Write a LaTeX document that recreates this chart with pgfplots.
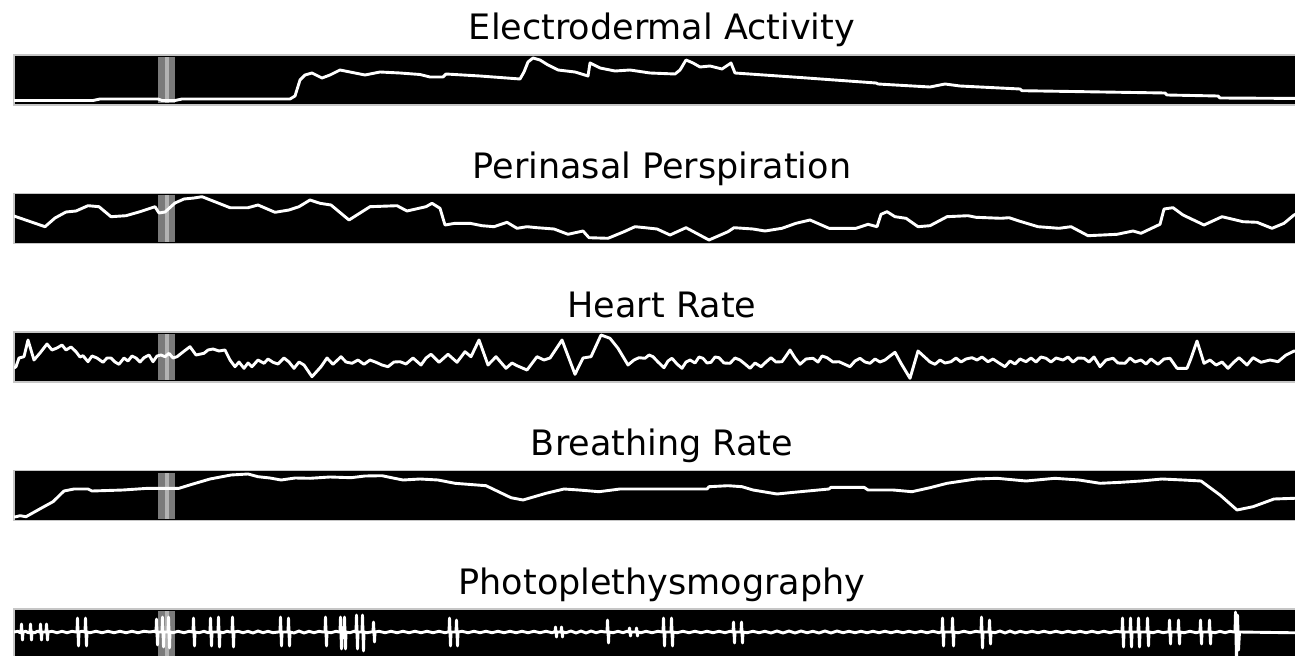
\documentclass[border=0pt]{standalone}
\usepackage{pgfplots}
\pgfplotsset{compat=1.18}
\usepackage{fontspec}
\setmainfont{DejaVu Sans}
\definecolor{bandout}{RGB}{122,122,122}
\definecolor{bandin}{RGB}{178,178,178}
\pgfplotsset{panel/.style={width=648pt,height=25pt,scale only axis,
 xmin=14,xmax=1310,y dir=reverse,xtick=\empty,ytick=\empty,
 axis background/.style={fill=black},
 axis line style={draw=gray!45,line width=0.6pt},
 title style={font=\fontsize{17.5}{21}\selectfont,at={(0.5,1)},anchor=base,yshift=1.5pt}},
 sig/.style={white,line width=1.45pt,line join=round,mark=none}}
\newcommand{\band}[2]{\fill[bandout] (axis cs:158,#1) rectangle (axis cs:175,#2);
 \fill[bandin] (axis cs:164.5,#1) rectangle (axis cs:169,#2);}
\begin{document}
\begin{tikzpicture}
% Panel 1
\begin{axis}[panel,at={(7pt,275pt)},anchor=south west,ymin=55,ymax=105,title={Electrodermal Activity}]
\band{57}{103}
\addplot[sig] coordinates {(14,100.5)(93,100.5)(100,99)(158,99)(162,100.5)(175,100.5)(182,99)(290,99)(295,96)(300,80)(305,75)(312,73)(322,78)(330,75)(340,70)(350,72)(365,75)(380,72)(400,73)(420,74.5)(430,77)(443,77)(446,74)(480,76)(520,79)(524,72)(528,62)(533,58)(540,60)(548,65)(558,70)(575,72)(588,76)(590,63)(600,68)(615,71)(630,70)(650,73)(675,74)(680,70)(686,60)(693,63)(700,67)(710,66)(722,69)(731,63)(735,73)(800,77.5)(876,83)(878,84)(930,87)(945,84)(960,86)(1020,89)(1022,90.7)(1165,93)(1167,95)(1218,96)(1220,98)(1310,98.5)};
\end{axis}
% Panel 2
\begin{axis}[panel,at={(7pt,205.75pt)},anchor=south west,ymin=193.5,ymax=243.5,title={Perinasal Perspiration}]
\band{195.5}{241.5}
\addplot[sig] coordinates {(14,216)(16,216.7)(45,226.7)(55,218)(66,212)(76,211)(88,205.7)(99,206.7)(111,216.7)(126,215.7)(140,211.7)(155,206.7)(159,213)(165,212)(175,203)(184,199)(194,198)(202,196.7)(213,201)(230,207.7)(248,207.7)(258,205)(275,212.3)(289,210)(299,206.7)(310,200)(320,203.3)(331,205)(349,220)(370,206.7)(397,205.7)(407,211)(426,206.7)(432,203.3)(440,208.3)(445,225)(455,223.3)(470,223.3)(482,225.7)(494,226.7)(507,222.3)(517,228.3)(527,226.7)(537,227.7)(554,229)(568,234.3)(583,231)(589,237.7)(608,238.3)(624,231.7)(635,226.7)(645,227.7)(657,229)(670,235)(686,227.7)(709,240)(728,231.7)(734,227.7)(753,229)(765,231)(782,228.3)(796,223.3)(810,220)(829,228.3)(856,228.3)(868,224.3)(877,226.7)(881,214.3)(887,211.7)(895,216.7)(906,218.3)(918,226.7)(930,225.7)(947,216.7)(968,215.7)(976,217.3)(1001,218.3)(1009,217.7)(1019,221)(1038,226.7)(1059,228.3)(1071,226.7)(1088,235.7)(1117,234.3)(1133,231)(1141,233.3)(1160,224.3)(1164,209)(1173,207.7)(1183,215)(1204,225)(1222,216.7)(1243,221.7)(1257,222.3)(1272,228.3)(1284,223.3)(1294,215)(1310,208)};
\end{axis}
% Panel 3
\begin{axis}[panel,at={(7pt,136.5pt)},anchor=south west,ymin=332,ymax=382,title={Heart Rate}]
\band{334}{380}
\addplot[sig] coordinates {(14,368)(16,366.7)(19,358)(24,356.7)(28,340)(34,360)(40,353)(47,344)(52,350)(57,348)(62,345)(66,350)(71,347)(76,351.7)(80,357)(83,355.7)(88,361.7)(92,356)(97,358)(103,362.3)(107,358)(111,358)(115,362)(119,364.3)(124,358)(128,361)(132,356)(136,358)(140,362)(144,357.7)(149,355)(153,361.7)(157,356)(161,355)(165,356.7)(169,353.3)(173,358)(177,356.7)(183,352)(190,346.7)(196,355)(204,353.3)(208,350)(213,349)(219,351)(225,350)(230,360)(235,366.7)(239,362)(244,368.3)(248,363)(252,366.7)(258,360)(264,363.3)(268,359)(273,362.3)(278,364)(284,358)(289,362)(294,368.3)(299,362)(304,365)(312,376.7)(321,366.7)(327,358)(333,364.3)(341,356.7)(346,362)(352,363.3)(358,360)(364,364.3)(370,360)(376,362.3)(382,365)(388,366.7)(394,362)(400,361.7)(406,364)(413,358)(421,365)(426,358)(431,354.3)(439,362.3)(448,354.3)(457,362.3)(465,351.7)(471,356.7)(479,340)(488,365)(496,356.7)(506,368.3)(512,363)(517,365.7)(527,370)(537,356.7)(544,360)(550,358)(562,340)(575,374.3)(583,358)(591,356.7)(601,335)(610,338.3)(618,348.3)(628,365)(634,360)(639,357.7)(645,358.3)(649,355)(653,356.7)(658,362)(664,367.7)(668,361)(672,358.3)(677,364)(682,368.3)(686,362)(690,360)(695,363)(699,357)(703,358.3)(707,363)(711,362.3)(715,357)(719,357.7)(724,363)(730,363.3)(735,358)(740,360)(745,364)(750,368.3)(755,363)(761,366.7)(766,362)(771,357.7)(776,362)(782,361.7)(786,356)(790,350)(795,358)(800,364.3)(806,359)(813,358.3)(818,362)(822,356)(827,357.7)(833,362)(839,361.7)(844,364)(850,366.7)(855,361)(860,358.3)(865,362)(870,363.3)(875,359)(880,362)(885,360)(890,356)(895,352.3)(901,363.3)(910,378.3)(918,351)(926,358.3)(930,362)(935,364.3)(940,360)(945,363)(951,361.7)(956,358)(961,362)(966,359)(972,357.7)(977,360)(982,357)(988,361.7)(993,359)(999,363)(1005,366.7)(1010,361)(1015,364)(1020,359)(1026,361.7)(1031,358)(1036,362)(1041,357)(1046,358.3)(1051,362)(1056,358)(1063,360)(1068,357)(1073,362)(1078,358)(1084,358.3)(1089,362)(1094,357)(1100,366.7)(1106,360)(1113,358.3)(1118,363)(1125,363.3)(1130,358)(1135,362)(1141,360)(1146,364)(1151,359)(1158,364.3)(1164,359)(1170,358.3)(1177,368.3)(1187,368.3)(1191,358.3)(1197,341)(1204,363.3)(1210,360)(1216,365)(1222,362)(1228,368.3)(1234,362)(1239,357.7)(1247,365)(1253,357.7)(1261,362.3)(1270,360)(1278,361.7)(1286,355)(1294,351)(1302,352)(1310,348)};
\end{axis}
% Panel 4
\begin{axis}[panel,at={(7pt,67.25pt)},anchor=south west,ymin=470.5,ymax=520.5,title={Breathing Rate}]
\band{472.5}{518.5}
\addplot[sig] coordinates {(14,517)(16,516.7)(20,515.7)(26,516.7)(41,508.3)(53,501.7)(64,491)(74,489)(88,489)(92,491)(123,490)(148,488.3)(179,488.3)(192,484.3)(210,479)(231,475)(248,474)(258,476.7)(270,478)(281,480)(295,478)(310,478.3)(330,477)(351,477.7)(365,476)(382,475.7)(393,478)(403,480)(420,479)(438,480)(455,483.3)(486,485.7)(511,497.7)(523,500)(546,493.3)(564,489)(579,490)(599,491.7)(620,489)(645,489)(707,489)(709,486.7)(728,485.7)(742,486.7)(753,490)(777,494)(794,492.3)(829,489)(831,487.3)(864,487.3)(868,490)(893,490)(912,491.7)(930,487.7)(947,483.3)(976,479)(997,478.3)(1026,481)(1055,478.3)(1079,480)(1100,483.3)(1121,482.3)(1141,481)(1162,479)(1183,480)(1201,481)(1220,495)(1237,510)(1253,506.7)(1274,499)(1294,498.3)(1310,498)};
\end{axis}
% Panel 5
\begin{axis}[panel,at={(7pt,-2pt)},anchor=south west,ymin=609,ymax=659,title={Photoplethysmography}]
\band{611}{657}
\addplot[sig] coordinates {(14,632)(18,631.3)(20,632.7)
(21,632)(21.5,624)(22.5,640)(23,632)(26,631.3)(28,632.7)
(30,632)(30.5,624)(31.5,640)(32,632)(35,632.7)(37,631.3)
(40,632)(40.5,624)(41.5,640)(42,632)(44,632)
(46,632)(46.5,624)(47.5,640)(48,632)
(52,631.3)(57,632.7)(62,631.3)(67,632.7)(72,631.3)(76,632)
(77,632)(77.5,618)(78.5,646)(79,632)(82,631.3)
(85,632)(85.5,618)(86.5,646)(87,632)
(90,632.7)(96,631.3)(102,632.7)(108,631.3)(114,632.7)(120,631.3)(126,632.7)(132,631.3)(138,632.7)(144,631.3)(150,632)(154,631.3)
(156,632)(156.5,619)(157.5,645)(158,632)
(162,632)(162.5,617)(163.5,647)(164,632)
(168,632)(168.5,617)(169.5,648)(170,632)
(173,632.7)(178,631.3)(184,632.7)(189,631.3)
(193,632)(193.5,618)(194.5,646)(195,632)
(199,632.7)(204,631.3)(208,632.7)
(210,632)(210.5,618)(211.5,646)(212,632)(215,632)
(218,632)(218.5,617)(219.5,647)(220,632)
(223,632.7)(227,631.3)(230,632)
(232,632)(232.5,617)(233.5,647)(234,632)
(238,631.3)(243,632.7)(248,631.3)(253,633)(258,631)(263,632.7)(268,631.3)(273,632.7)(278,632)
(280,632)(280.5,617)(281.5,646)(282,632)(285,632)
(288,632)(288.5,618)(289.5,646)(290,632)
(294,633)(299,631)(304,633)(309,631.3)(314,632.7)(319,631.3)(323,632)
(325,632)(325.5,617)(326.5,646)(327,632)
(331,632.7)(336,631.3)(339,632)
(340,632)(340.5,617)(341.5,649)(342,632)
(344,632)(344.5,617)(345.5,649)(346,632)
(350,632.7)(354,631.3)
(356,632)(356.5,615)(357.5,649)(358,632)(360,632)
(362,632)(362.5,615)(363.5,651)(364,632)
(367,632.7)(371,632)
(373,632)(373.5,622)(374.5,642)(375,632)
(379,631.3)(385,632.7)(391,631.3)(397,632.7)(403,631.3)(409,632.7)(415,631.3)(421,632.7)(427,631.3)(433,632.7)(439,631.3)(445,632.7)(448,632)
(449,632)(449.5,618)(450.5,646)(451,632)(454,632)
(456,632)(456.5,620)(457.5,646)(458,632)
(462,631.3)(468,632.7)(474,631.3)(480,632.7)(486,631.3)(492,632.7)(498,631.3)(504,632.7)(510,631.3)(516,632.7)(522,631.3)(528,632.7)(534,631.3)(540,632.7)(546,631.3)(552,632.7)(554,632)
(555,632)(555.5,627)(556.5,637)(557,632)(559,632)
(561,632)(561.5,627)(562.5,637)(563,632)
(566,632.7)(571,631)(576,633)(581,631)(586,633)(591,631)(596,632.7)(601,631.3)(605,632)
(607,632)(607.5,620)(608.5,643)(609,632)
(613,632.7)(618,631.3)(623,632.7)(627,631.3)
(629,632)(629.5,628)(630.5,636)(631,632)
(636,632)(636.5,628)(637.5,636)(638,632)
(641,632.7)(646,631.3)(652,632.7)(658,631.3)(662,632)
(663,632)(663.5,618)(664.5,646)(665,632)(668,632)
(671,632)(671.5,618)(672.5,646)(673,632)
(677,632.7)(683,631.3)(689,632.7)(695,631.3)(701,632.7)(707,631.3)(713,632.7)(719,631.3)(725,632.7)(730,631.3)
(733,632)(733.5,622)(734.5,643)(735,632)(738,632)
(741,632)(741.5,622)(742.5,643)(743,632)
(747,632.7)(753,631.3)(759,632.7)(765,631.3)(771,633)(777,631)(783,633)(789,631)(795,633)(801,631)(807,632.7)(813,631.3)(819,633)(825,631)(831,633)(837,631)(843,632.7)(849,631.3)(855,632.7)(861,631.3)(867,632.7)(873,631.3)(879,632.7)(885,631.3)(891,632.7)(897,631.3)(903,632.7)(909,631.3)(915,632.7)(921,631.3)(927,632.7)(933,631.3)(939,632.7)(941,632)
(942,632)(942.5,618)(943.5,646)(944,632)(948,632)
(952,632)(952.5,618)(953.5,646)(954,632)
(958,632.7)(964,631.3)(970,632.7)(976,631.3)(980,632)
(981,632)(981.5,617)(982.5,648)(983,632)(986,632)
(989,632)(989.5,620)(990.5,644)(991,632)
(995,632.7)(1000,631)(1005,633)(1010,631)(1015,633)(1020,631.3)(1026,632.7)(1032,631.3)(1038,632.7)(1044,631.3)(1050,632.7)(1056,631.3)(1062,632.7)(1068,631.3)(1074,632.7)(1080,631.3)(1086,632.7)(1092,631.3)(1098,632.7)(1104,631.3)(1110,632.7)(1116,631.3)(1121,632)
(1122,632)(1122.5,618)(1123.5,647)(1124,632)
(1130,632)(1130.5,618)(1131.5,647)(1132,632)
(1138,632)(1138.5,618)(1139.5,647)(1140,632)
(1147,632)(1147.5,618)(1148.5,646)(1149,632)
(1153,632.7)(1158,631.3)(1163,632.7)(1167,632)
(1169,632)(1169.5,620)(1170.5,644)(1171,632)
(1178,632)(1178.5,620)(1179.5,644)(1180,632)
(1184,632.7)(1190,631.3)(1196,632.7)(1199,632)
(1200,632)(1200.5,620)(1201.5,644)(1202,632)
(1209,632)(1209.5,620)(1210.5,644)(1211,632)
(1215,632.7)(1220,631.3)(1225,632.7)(1230,631.3)(1234,632)
(1235,632)(1235.5,612)(1236.5,660)(1237.5,615)(1238.5,650)(1239.5,632)
(1310,633)};
\end{axis}
\pgfresetboundingbox
\useasboundingbox (0,0) rectangle (647.5pt,327.5pt);
\end{tikzpicture}
\end{document}
